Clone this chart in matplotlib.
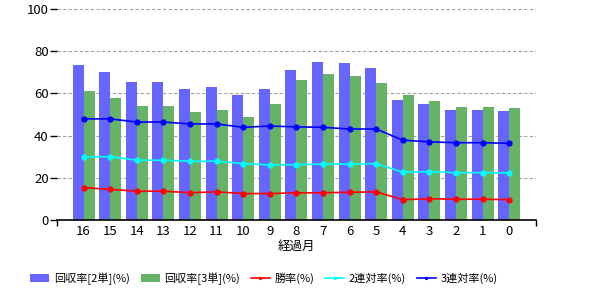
import numpy as np
import matplotlib
matplotlib.use("Agg")
import matplotlib.pyplot as plt

plt.rcParams['font.family'] = ['Noto Sans CJK JP', 'DejaVu Sans']

# データ
months = ["16", "15", "14", "13", "12", "11", "10", "9", "8", "7", "6", "5", "4", "3", "2", "1", "0"]
kaishu_2tan = [73.5, 70.1, 65.4, 65.4, 62.1, 63.0, 59.2, 62.1, 71.1, 74.9, 74.4, 72.0, 56.9, 55.0, 52.1, 52.1, 51.7]
kaishu_3tan = [61.1, 57.8, 54.0, 54.0, 51.2, 52.1, 48.8, 55.0, 66.4, 69.2, 68.2, 64.9, 59.2, 56.4, 53.6, 53.6, 53.1]
shoritsu = [15.3, 14.5, 13.6, 13.6, 12.9, 13.3, 12.5, 12.5, 12.8, 12.9, 13.1, 13.3, 9.6, 10.0, 9.8, 9.8, 9.6]
rentai2 = [29.9, 30.0, 28.3, 28.3, 27.8, 27.8, 26.7, 26.1, 26.2, 26.5, 26.4, 26.7, 22.6, 22.9, 22.4, 22.4, 22.3]
rentai3 = [47.9, 47.9, 46.4, 46.4, 45.5, 45.5, 43.9, 44.5, 44.1, 43.9, 43.1, 43.1, 37.8, 37.0, 36.6, 36.6, 36.3]

x = np.arange(len(months))
w = 0.415

fig = plt.figure(figsize=(6, 3), dpi=100)
ax = fig.add_axes([0.095, 0.267, 0.798, 0.703])

# グリッド
for yv in [20, 40, 60, 80, 100]:
    ax.axhline(yv, color='#a0a0a0', linestyle=(0, (3, 2)), linewidth=0.8, zorder=0)

b1 = ax.bar(x - w / 2, kaishu_2tan, w, color='#6666ff', label='回収率[2単](%)', zorder=2)
b2 = ax.bar(x + w / 2, kaishu_3tan, w, color='#66b266', label='回収率[3単](%)', zorder=2)
l1, = ax.plot(x, shoritsu, color='red', marker='o', markersize=3.5, linewidth=1.2, label='勝率(%)', zorder=3)
l2, = ax.plot(x, rentai2, color='cyan', marker='o', markersize=3.5, linewidth=1.2, label='2連対率(%)', zorder=3)
l3, = ax.plot(x, rentai3, color='blue', marker='o', markersize=3.5, linewidth=1.2, label='3連対率(%)', zorder=3)

ax.set_xlim(-1, len(months))
ax.set_ylim(0, 100)
ax.set_yticks([0, 20, 40, 60, 80, 100])
ax.tick_params(axis='y', labelsize=9.5, length=5, width=1, pad=1)

# 目盛ラベルは中央、目盛線は両端のみ
ax.set_xticks(x)
ax.set_xticklabels(months, fontsize=9.5)
ax.tick_params(axis='x', length=0, pad=4)
ax.set_xticks([-1, len(months)], minor=True)
ax.tick_params(axis='x', which='minor', length=4, width=1)

for s in ['top', 'right', 'left']:
    ax.spines[s].set_visible(False)
ax.spines['bottom'].set_linewidth(1.2)

ax.set_xlabel('経過月', fontsize=9, labelpad=1)

ax.legend(handles=[b1, b2, l1, l2, l3], loc='upper center', bbox_to_anchor=(0.432, -0.2),
          ncol=5, frameon=False, fontsize=8, handlelength=1.7, handletextpad=0.4,
          columnspacing=1.0, markerscale=0.4)

plt.savefig("out.png", dpi=100)
